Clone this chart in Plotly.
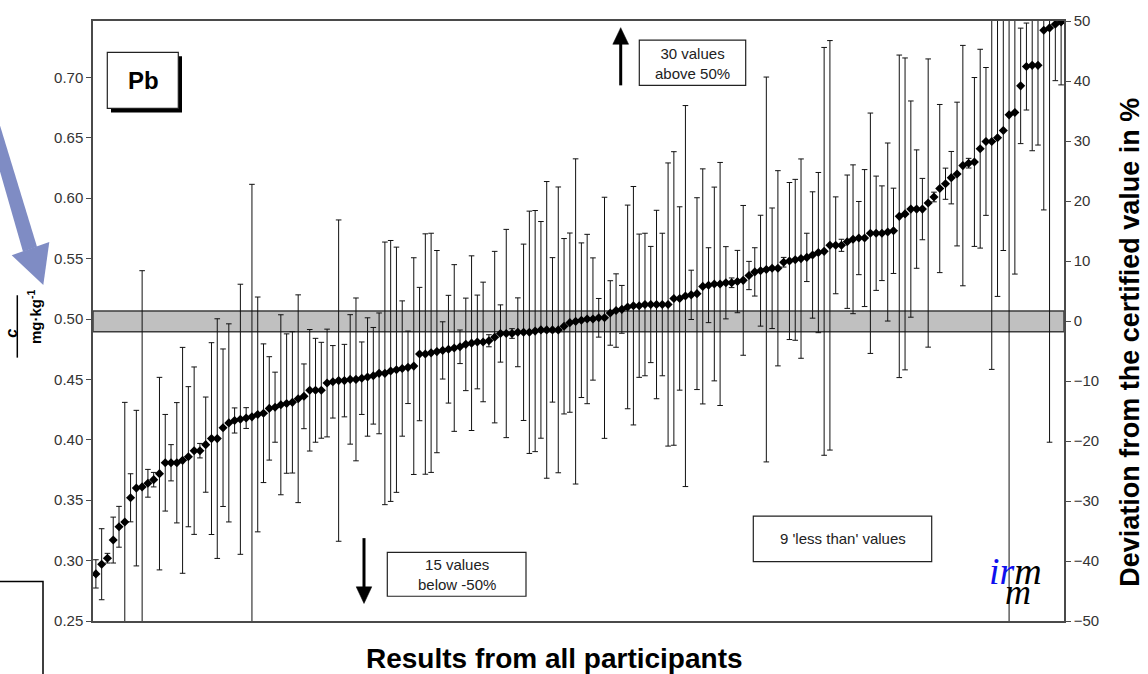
import plotly.graph_objects as go

# Pb mass fraction reported by each participant (mg/kg), sorted ascending
participant_values = [
    0.289, 0.297, 0.302, 0.317, 0.328, 0.332, 0.352, 0.360, 0.361, 0.364,
    0.367, 0.372, 0.381, 0.381, 0.381, 0.383, 0.386, 0.391, 0.391, 0.396,
    0.401, 0.401, 0.410, 0.414, 0.416, 0.417, 0.418, 0.419, 0.421, 0.422,
    0.426, 0.427, 0.429, 0.430, 0.431, 0.434, 0.436, 0.441, 0.441, 0.441,
    0.447, 0.448, 0.449, 0.449, 0.450, 0.450, 0.451, 0.452, 0.453, 0.455,
    0.455, 0.457, 0.458, 0.459, 0.460, 0.461, 0.471, 0.471, 0.472, 0.473,
    0.474, 0.475, 0.476, 0.477, 0.479, 0.480, 0.481, 0.481, 0.482, 0.485,
    0.488, 0.488, 0.488, 0.489, 0.489, 0.489, 0.490, 0.491, 0.491, 0.491,
    0.491, 0.494, 0.497, 0.498, 0.499, 0.500, 0.500, 0.501, 0.501, 0.505,
    0.507, 0.508, 0.510, 0.511, 0.511, 0.512, 0.512, 0.512, 0.512, 0.512,
    0.517, 0.517, 0.519, 0.520, 0.521, 0.527, 0.528, 0.529, 0.529, 0.530,
    0.530, 0.531, 0.532, 0.536, 0.539, 0.540, 0.541, 0.542, 0.542, 0.547,
    0.548, 0.549, 0.550, 0.551, 0.553, 0.555, 0.556, 0.561, 0.561, 0.561,
    0.564, 0.566, 0.567, 0.567, 0.571, 0.571, 0.571, 0.572, 0.573, 0.585,
    0.587, 0.591, 0.591, 0.591, 0.596, 0.601, 0.608, 0.612, 0.617, 0.620,
    0.627, 0.629, 0.630, 0.641, 0.647, 0.647, 0.650, 0.656, 0.669, 0.671,
    0.693, 0.709, 0.710, 0.710, 0.739, 0.741, 0.744, 0.746,
]

# Expanded uncertainty stated with each result (mg/kg)
expanded_uncertainty = [
    0.0117, 0.0294, 0.0040, 0.0190, 0.0169, 0.0990, 0.0199, 0.0644, 0.1790, 0.0115,
    0.0060, 0.0797, 0.0400, 0.0150, 0.0498, 0.0935, 0.0580, 0.0693, 0.0060, 0.0394,
    0.0794, 0.0992, 0.0652, 0.0820, 0.0104, 0.1118, 0.0086, 0.1925, 0.0972, 0.0574,
    0.0428, 0.0290, 0.0745, 0.0577, 0.0585, 0.0860, 0.0268, 0.0503, 0.0430, 0.0397,
    0.0446, 0.0300, 0.1330, 0.0300, 0.0536, 0.0674, 0.0300, 0.0490, 0.0400, 0.0500,
    0.1087, 0.1080, 0.1015, 0.0560, 0.0300, 0.0897, 0.0552, 0.0995, 0.0990, 0.0837,
    0.0237, 0.0446, 0.0690, 0.0139, 0.0383, 0.0723, 0.0388, 0.0495, 0.0050, 0.0710,
    0.0237, 0.0862, 0.0040, 0.0285, 0.0730, 0.1003, 0.0998, 0.0897, 0.1228, 0.0598,
    0.1183, 0.0726, 0.0742, 0.1346, 0.0640, 0.0701, 0.0506, 0.0160, 0.0998, 0.0267,
    0.0304, 0.0198, 0.0843, 0.0987, 0.0593, 0.0590, 0.0481, 0.0780, 0.0590, 0.1172,
    0.1215, 0.0759, 0.1577, 0.0204, 0.0794, 0.0973, 0.0310, 0.0802, 0.1006, 0.0299,
    0.0040, 0.0258, 0.0620, 0.0117, 0.0200, 0.0459, 0.1593, 0.0499, 0.0808, 0.0040,
    0.0650, 0.0666, 0.0825, 0.0200, 0.0523, 0.0663, 0.1688, 0.1695, 0.0401, 0.0050,
    0.0552, 0.0616, 0.0303, 0.0567, 0.0995, 0.0473, 0.0392, 0.0737, 0.0353, 0.1335,
    0.1291, 0.0895, 0.0490, 0.0254, 0.1193, 0.0040, 0.0696, 0.0129, 0.0217, 0.0595,
    0.0995, 0.0040, 0.0699, 0.0823, 0.0612, 0.1887, 0.1313, 0.0993, 0.4300, 0.1338,
    0.0478, 0.0360, 0.0707, 0.0660, 0.1487, 0.3430, 0.0467, 0.0522,
]

# Certified value and its expanded uncertainty (mg/kg)
certified_value = 0.498
certified_u = 0.0086

left_ticks = [0.25, 0.30, 0.35, 0.40, 0.45, 0.50, 0.55, 0.60, 0.65, 0.70]
right_ticks = [-50, -40, -30, -20, -10, 0, 10, 20, 30, 40, 50]

ranks = list(range(1, len(participant_values) + 1))

# Plot-area geometry in pixels (used to place page-level decorations)
W, H = 1148, 674
PL, PR, PT, PB = 93, 1064, 15, 621


def px(x):
    return (x - PL) / (PR - PL)


def py(y):
    return (PB - y) / (PB - PT)


FONT = "Liberation Sans, Arial, sans-serif"
AX_COL = "#4a4a4a"

fig = go.Figure()

fig.add_trace(go.Scatter(
    x=ranks,
    y=participant_values,
    mode="markers",
    marker=dict(symbol="diamond", size=7, color="black", line=dict(width=0)),
    error_y=dict(type="data", array=expanded_uncertainty, visible=True,
                 color="#111111", thickness=1, width=2.8),
    showlegend=False,
    hoverinfo="x+y",
))

# Invisible trace that anchors the percentage axis
fig.add_trace(go.Scatter(
    x=[1], y=[0], yaxis="y2", mode="markers",
    marker=dict(opacity=0), showlegend=False, hoverinfo="skip",
))

shapes = []

# Certified range band
shapes.append(dict(type="rect", xref="paper", yref="y", layer="below",
                   x0=0, x1=1,
                   y0=certified_value - certified_u, y1=certified_value + certified_u,
                   fillcolor="#c0c0c0", line=dict(color="#3c3c3c", width=1.5)))

# "Pb" label box with drop shadow
shapes.append(dict(type="rect", xref="paper", yref="paper",
                   x0=px(111), x1=px(182), y0=py(107.5), y1=py(50.5),
                   fillcolor="black", line=dict(width=0)))
shapes.append(dict(type="rect", xref="paper", yref="paper",
                   x0=px(107.3), x1=px(178.3), y0=py(103.3), y1=py(46.7),
                   fillcolor="white", line=dict(color="#222222", width=1.2)))

# Note boxes
for (x0, x1, y0, y1) in [(639.3, 745.7, 34.3, 80.0),
                         (387.3, 526.0, 551.7, 596.0),
                         (753.3, 931.7, 515.0, 561.0)]:
    shapes.append(dict(type="rect", xref="paper", yref="paper",
                       x0=px(x0), x1=px(x1), y0=py(y1), y1=py(y0),
                       fillcolor="white", line=dict(color="#222222", width=1.2)))

# Up arrow (values above +50 %)
shapes.append(dict(type="line", xref="paper", yref="paper",
                   x0=px(620.7), x1=px(620.7), y0=py(80), y1=py(34),
                   line=dict(color="black", width=3)))
shapes.append(dict(type="path", xref="paper", yref="paper",
                   path=(f"M {px(612.8)},{py(38.5)} L {px(628.6)},{py(38.5)} "
                         f"L {px(620.7)},{py(21.7)} Z"),
                   fillcolor="black", line=dict(color="black", width=0.5)))

# Down arrow (values below -50 %)
shapes.append(dict(type="line", xref="paper", yref="paper",
                   x0=px(364), x1=px(364), y0=py(537.3), y1=py(590),
                   line=dict(color="black", width=3)))
shapes.append(dict(type="path", xref="paper", yref="paper",
                   path=(f"M {px(356.2)},{py(586.5)} L {px(371.8)},{py(586.5)} "
                         f"L {px(364)},{py(603.3)} Z"),
                   fillcolor="black", line=dict(color="black", width=0.5)))

# Fraction bar of the left axis title
shapes.append(dict(type="line", xref="paper", yref="paper",
                   x0=px(17.3), x1=px(17.3), y0=py(292), y1=py(355),
                   line=dict(color="black", width=1.5)))

# Pointer arrow beside the axis title
ARROW_COL = "#7f8cc4"
shapes.append(dict(type="path", xref="paper", yref="paper",
                   path=(f"M {px(-2)},{py(114)} L {px(37)},{py(243)} "
                         f"L {px(23)},{py(248)} L {px(-2)},{py(160)} Z"),
                   fillcolor=ARROW_COL, line=dict(width=0)))
shapes.append(dict(type="path", xref="paper", yref="paper",
                   path=(f"M {px(11.7)},{py(251.7)} L {px(49.3)},{py(238.3)} "
                         f"L {px(43.3)},{py(281.7)} Z"),
                   fillcolor=ARROW_COL, line=dict(width=0)))

# Corner of the neighbouring frame at lower left
shapes.append(dict(type="path", xref="paper", yref="paper",
                   path=f"M {px(-2)},{py(581)} L {px(43)},{py(581)} L {px(43)},{py(676)}",
                   line=dict(color="black", width=1.5)))

annotations = []


def note(x, y, text, size=15, bold=False, color="#222222", angle=0,
         family=FONT, xanchor="center", yanchor="middle"):
    annotations.append(dict(
        x=px(x), y=py(y), xref="paper", yref="paper", text=text,
        showarrow=False, textangle=angle, xanchor=xanchor, yanchor=yanchor,
        font=dict(family=family, size=size, color=color,
                  weight="bold" if bold else "normal"),
    ))


note(143, 75, "Pb", size=24, bold=True, color="black")
note(692.5, 57.5, "30 values<br>above 50%", size=15)
note(456.7, 574, "15 values<br>below -50%", size=15)
note(842.5, 538, "9 'less than' values", size=15)
note(554.5, 659, "Results from all participants", size=28, bold=True, color="black")
note(1130, 340, "Deviation from the certified value in %", size=27, bold=True,
     color="black", angle=-90)

# Left axis title as a fraction: c / mg·kg^-1
note(12, 331, "<i>c</i>", size=16, bold=True, color="black", angle=-90)
note(34, 314, "mg·kg<sup>-1</sup>", size=15, bold=True, color="black", angle=-90)

# irmm logo
SERIF = "Liberation Serif, Times New Roman, serif"
note(1015, 571, "<i><span style='color:#1010ee'>ir</span>m</i>", size=38,
     color="black", family=SERIF)
note(1018, 592, "<i>m</i>", size=36, color="black", family=SERIF)

fig.update_layout(
    width=W, height=H,
    margin=dict(l=PL, r=W - PR, t=PT, b=H - PB, pad=0),
    paper_bgcolor="white", plot_bgcolor="white",
    font=dict(family=FONT, size=15, color="#333333"),
    xaxis=dict(range=[0.5, len(participant_values) + 0.5],
               showticklabels=False, ticks="", showgrid=False, zeroline=False,
               showline=True, mirror=True, linecolor=AX_COL, linewidth=1.5),
    yaxis=dict(range=[0.25, 0.7467], tickvals=left_ticks, tickformat=".2f",
               ticks="outside", ticklen=5, tickcolor=AX_COL, tickwidth=1.2,
               showgrid=False, zeroline=False,
               showline=True, linecolor=AX_COL, linewidth=1.5,
               tickfont=dict(size=15, color="#333333")),
    yaxis2=dict(range=[-50, 50], tickvals=right_ticks, overlaying="y", side="right",
                ticks="outside", ticklen=5, tickcolor=AX_COL, tickwidth=1.2,
                showgrid=False, zeroline=False,
                showline=True, linecolor=AX_COL, linewidth=1.5,
                tickfont=dict(size=15, color="#333333")),
    shapes=shapes,
    annotations=annotations,
)

fig.write_html("out.html")
